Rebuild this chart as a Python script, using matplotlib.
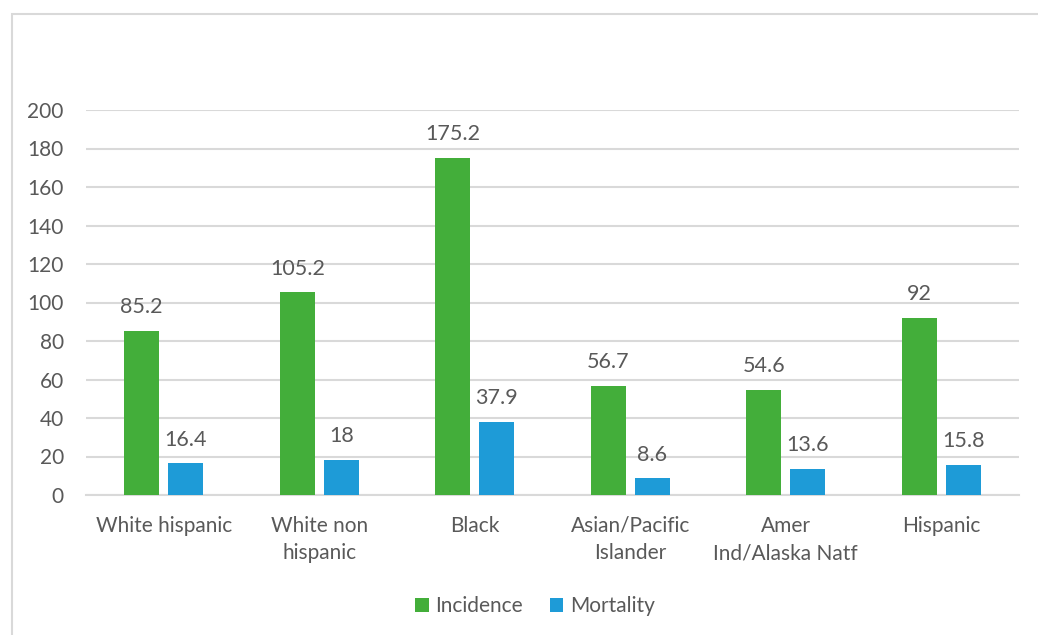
import numpy as np
import matplotlib.pyplot as plt
from matplotlib.patches import Rectangle

categories = ["White hispanic", "White non\nhispanic", "Black",
              "Asian/Pacific\nIslander", "Amer\nInd/Alaska Natf", "Hispanic"]
incidence = [85.2, 105.2, 175.2, 56.7, 54.6, 92]
mortality = [16.4, 18, 37.9, 8.6, 13.6, 15.8]
incidence_labels = ["85.2", "105.2", "175.2", "56.7", "54.6", "92"]
mortality_labels = ["16.4", "18", "37.9", "8.6", "13.6", "15.8"]

GREEN = "#43AE3A"
BLUE = "#1E9BD7"
TEXT = "#595959"
GRID = "#D9D9D9"

plt.rcParams['font.family'] = ['Lato', 'DejaVu Sans']

fig = plt.figure(figsize=(10.38, 6.35), dpi=100)
ax = fig.add_axes([86 / 1038, 140 / 635, 933 / 1038, 385 / 635])

# chart frame (only top and left edges fall inside the canvas)
fig.patches.append(Rectangle((12 / 1038, -0.1), 1.2, (621 / 635) + 0.1,
                             transform=fig.transFigure, fill=False,
                             edgecolor=GRID, linewidth=1.5))

x = np.arange(len(categories))
w = 0.225
off = 0.1415
b1 = ax.bar(x - off, incidence, w, color=GREEN, label="Incidence", zorder=3)
b2 = ax.bar(x + off, mortality, w, color=BLUE, label="Mortality", zorder=3)

for bars, labels in ((b1, incidence_labels), (b2, mortality_labels)):
    for bar, lab in zip(bars, labels):
        ax.annotate(lab, (bar.get_x() + bar.get_width() / 2, bar.get_height()),
                    xytext=(0, 10), textcoords="offset points",
                    ha="center", va="bottom", fontsize=15.5, color=TEXT)

ax.set_xlim(-0.5, len(categories) - 0.5)
ax.set_ylim(0, 200)
ax.set_yticks(np.arange(0, 201, 20))
ax.set_xticks(x)
ax.set_xticklabels(categories, linespacing=1.45)
ax.tick_params(axis="both", length=0, labelsize=15, labelcolor=TEXT)
ax.tick_params(axis="x", pad=15)
ax.tick_params(axis="y", pad=16)

ax.grid(axis="y", color=GRID, linewidth=1.5, zorder=0)
for s in ("top", "right", "left"):
    ax.spines[s].set_visible(False)
ax.spines["bottom"].set_color(GRID)
ax.spines["bottom"].set_linewidth(1.5)

fig.legend(handles=[b1, b2], loc="center", bbox_to_anchor=(535 / 1038, 29 / 635),
           ncol=2, frameon=False, fontsize=15, labelcolor=TEXT,
           handlelength=0.65, handleheight=0.65, handletextpad=0.3, columnspacing=1.3)

fig.savefig("out.png", dpi=100)
